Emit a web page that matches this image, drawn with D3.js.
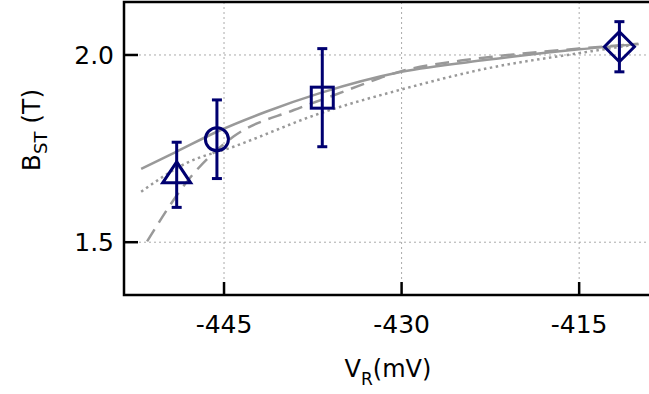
<!DOCTYPE html>
<html>
<head>
<meta charset="utf-8">
<script src="https://cdn.jsdelivr.net/npm/d3@7"></script>
<style>
  body { margin: 0; background: #fff; }
  svg { display: block; font-family: "DejaVu Sans", sans-serif; }
</style>
</head>
<body>
<svg id="chart"></svg>
<script>
// measured points with error bars
const pointV = [-449.0, -445.6, -436.7, -411.6];
const pointB = [1.680, 1.775, 1.886, 2.022];
const pointErr = [0.087, 0.105, 0.131, 0.067];
const pointShape = ['triangle', 'circle', 'square', 'diamond'];

// fitted curves
const solidV = [-452, -449, -445.6, -441.4, -436.9, -430, -422.8, -415, -410];
const solidB = [1.696, 1.742, 1.795, 1.849, 1.898, 1.955, 1.987, 2.015, 2.029];
const dashV = [-451.5, -448, -444.2, -439.1, -436, -433, -430, -425, -420, -415, -410];
const dashB = [1.502, 1.667, 1.782, 1.853, 1.889, 1.925, 1.957, 1.985, 2.003, 2.017, 2.030];
const dotV = [-452, -448.2, -444.2, -436.9, -430, -422.8, -415, -410];
const dotB = [1.635, 1.711, 1.755, 1.844, 1.908, 1.964, 2.005, 2.029];

const xTicks = [-445, -430, -415];
const yTicks = [1.5, 2.0];

const width = 649;
const height = 394;
const margin = { top: 2, right: 0, bottom: 99, left: 124 };

const svg = d3.select('#chart')
  .attr('width', width)
  .attr('height', height);

const x = d3.scaleLinear()
  .domain([-453.45, -409.1])
  .range([margin.left, width - margin.right]);

const y = d3.scaleLinear()
  .domain([1.359, 2.1415])
  .range([height - margin.bottom, margin.top]);

const navy = '#000070';
const grey = '#999999';

// grid
svg.append('g')
  .selectAll('line')
  .data(xTicks)
  .enter()
  .append('line')
  .attr('x1', d => x(d)).attr('x2', d => x(d))
  .attr('y1', margin.top).attr('y2', height - margin.bottom)
  .style('stroke', '#aaa')
  .style('stroke-width', 1)
  .style('stroke-dasharray', '2,3');

svg.append('g')
  .selectAll('line')
  .data(yTicks)
  .enter()
  .append('line')
  .attr('x1', margin.left).attr('x2', width)
  .attr('y1', d => y(d)).attr('y2', d => y(d))
  .style('stroke', '#aaa')
  .style('stroke-width', 1)
  .style('stroke-dasharray', '2,3');

// fit lines
const line = d3.line()
  .x(d => x(d[0]))
  .y(d => y(d[1]))
  .curve(d3.curveMonotoneX);

const curves = [
  { v: dotV, b: dotB, dash: '2.5,3.5' },
  { v: dashV, b: dashB, dash: '14,8' },
  { v: solidV, b: solidB, dash: null }
];

svg.append('g')
  .selectAll('path')
  .data(curves)
  .enter()
  .append('path')
  .attr('d', d => line(d.v.map((v, i) => [v, d.b[i]])))
  .style('fill', 'none')
  .style('stroke', grey)
  .style('stroke-width', 2.5)
  .style('stroke-dasharray', d => d.dash);

// error bars + markers
const points = pointV.map((v, i) => ({ v, b: pointB[i], e: pointErr[i], shape: pointShape[i] }));

const pg = svg.append('g')
  .selectAll('g')
  .data(points)
  .enter()
  .append('g')
  .attr('transform', d => `translate(${x(d.v)},${y(d.b)})`)
  .style('stroke', navy)
  .style('stroke-width', 3)
  .style('fill', 'none');

pg.append('line')
  .attr('x1', 0).attr('x2', 0)
  .attr('y1', d => y(d.b + d.e) - y(d.b))
  .attr('y2', d => y(d.b - d.e) - y(d.b));

pg.each(function (d) {
  const g = d3.select(this);
  const top = y(d.b + d.e) - y(d.b);
  const bot = y(d.b - d.e) - y(d.b);
  [top, bot].forEach(yy => g.append('line')
    .attr('x1', -5).attr('x2', 5)
    .attr('y1', yy).attr('y2', yy));
  if (d.shape === 'triangle') {
    g.append('path').attr('d', 'M0,-13L-14,8L14,8Z');
  } else if (d.shape === 'circle') {
    g.append('circle').attr('r', 11.5);
  } else if (d.shape === 'square') {
    g.append('rect').attr('x', -11).attr('y', -10.5).attr('width', 22).attr('height', 21);
  } else {
    g.append('path').attr('d', 'M0,-15L15,0L0,15L-15,0Z');
  }
});

// frame
svg.append('path')
  .attr('d', `M${width},${margin.top}H${margin.left}V${height - margin.bottom}H${width}`)
  .style('fill', 'none')
  .style('stroke', '#000')
  .style('stroke-width', 2.5);

// ticks (inward)
svg.append('g')
  .selectAll('line')
  .data(xTicks)
  .enter()
  .append('line')
  .attr('x1', d => x(d)).attr('x2', d => x(d))
  .attr('y1', height - margin.bottom).attr('y2', height - margin.bottom - 13)
  .style('stroke', '#000')
  .style('stroke-width', 2.5);

svg.append('g')
  .selectAll('line')
  .data(yTicks)
  .enter()
  .append('line')
  .attr('x1', margin.left).attr('x2', margin.left + 14)
  .attr('y1', d => y(d)).attr('y2', d => y(d))
  .style('stroke', '#000')
  .style('stroke-width', 2.5);

// tick labels
svg.append('g')
  .selectAll('text')
  .data(xTicks)
  .enter()
  .append('text')
  .attr('x', d => x(d))
  .attr('y', 333)
  .attr('text-anchor', 'middle')
  .style('font-size', '25px')
  .text(d => d);

svg.append('g')
  .selectAll('text')
  .data(yTicks)
  .enter()
  .append('text')
  .attr('x', 114)
  .attr('y', d => y(d))
  .attr('dy', '0.36em')
  .attr('text-anchor', 'end')
  .style('font-size', '25px')
  .text(d => d.toFixed(1));

// axis titles
const xt = svg.append('text')
  .attr('x', 388)
  .attr('y', 377)
  .attr('text-anchor', 'middle')
  .style('font-size', '24px');
xt.append('tspan').text('V');
xt.append('tspan').attr('dy', 8).style('font-size', '17px').text('R');
xt.append('tspan').attr('dy', -8).text('(mV)');

const yt = svg.append('text')
  .attr('transform', 'translate(40,130) rotate(-90)')
  .attr('text-anchor', 'middle')
  .style('font-size', '25px');
yt.append('tspan').text('B');
yt.append('tspan').attr('dy', 7).style('font-size', '18px').text('ST');
yt.append('tspan').attr('dy', -7).text(' (T)');
</script>
</body>
</html>
